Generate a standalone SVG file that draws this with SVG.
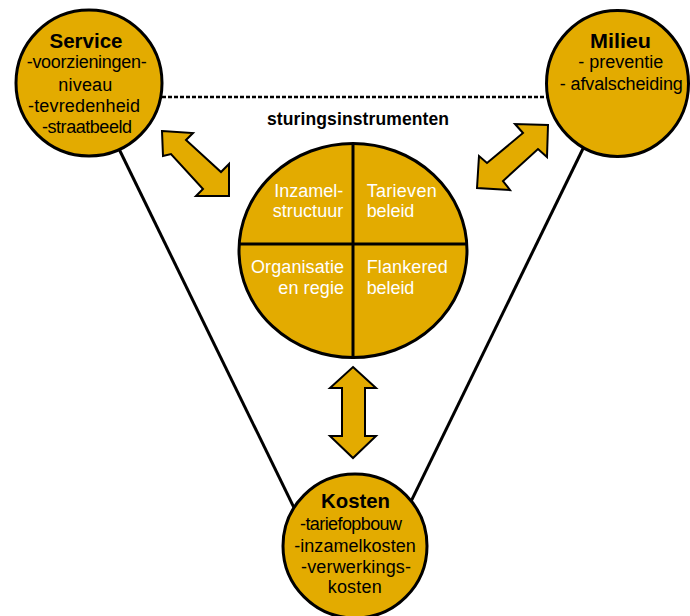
<svg xmlns="http://www.w3.org/2000/svg" width="690" height="616" viewBox="0 0 690 616">
<style>
.c{fill:#E3AB00;stroke:#000;stroke-width:3}
.ar{fill:#E3AB00;stroke:#000;stroke-width:2;stroke-linejoin:miter}
.ln{stroke:#000;stroke-width:3;fill:none}
.t{font-family:"Liberation Sans",Arial,sans-serif;font-size:18px;fill:#000;text-anchor:middle}
.h{font-family:"Liberation Sans",Arial,sans-serif;font-size:20.5px;font-weight:bold;fill:#000;text-anchor:middle}
.w{font-family:"Liberation Sans",Arial,sans-serif;font-size:18px;fill:#fff}
</style>
<rect width="690" height="616" fill="#fff"/>
<g id="connectors">
<line class="ln" x1="100" y1="110" x2="300" y2="520"/>
<line class="ln" x1="595" y1="124" x2="400" y2="524"/>
<line x1="150" y1="97" x2="555" y2="97" stroke="#000" stroke-width="2.5" stroke-dasharray="4,2"/>
<polygon class="ar" points="162,131 193,133 186,140 221,172 229,164 229,196 196,196 203,189 171,154 163,156"/>
<polygon class="ar" points="548,125 547,157 538,149 503,181 510,190 477,188 479,156 487,163 523,133 515,124"/>
<polygon class="ar" points="353,367 376,388 365,388 365,436 376,436 353,458 330,436 342,436 342,388 330,388"/>
</g>
<g id="service">
<circle class="c" cx="89" cy="83" r="73"/>
<text class="h" x="86" y="48" textLength="73" lengthAdjust="spacingAndGlyphs">Service</text>
<text class="t" x="86.7" y="68" textLength="120">-voorzieningen-</text>
<text class="t" x="85.3" y="91" textLength="54">niveau</text>
<text class="t" x="84" y="112" textLength="112">-tevredenheid</text>
<text class="t" x="87" y="133" textLength="90">-straatbeeld</text>
</g>
<g id="milieu">
<ellipse class="c" cx="617.5" cy="83.5" rx="71" ry="73"/>
<text class="h" x="620.5" y="48" textLength="61" lengthAdjust="spacingAndGlyphs">Milieu</text>
<text class="t" x="620.8" y="68" textLength="85">- preventie</text>
<text class="t" x="621.3" y="90" textLength="123">- afvalscheiding</text>
</g>
<g id="kosten">
<circle class="c" cx="355" cy="546" r="72"/>
<text class="h" x="355.5" y="508" textLength="69" lengthAdjust="spacingAndGlyphs">Kosten</text>
<text class="t" x="351" y="529.5" textLength="102">-tariefopbouw</text>
<text class="t" x="355" y="552" textLength="121.5">-inzamelkosten</text>
<text class="t" x="356" y="573" textLength="110">-verwerkings-</text>
<text class="t" x="354.7" y="593" textLength="54">kosten</text>
</g>
<g id="sturingsinstrumenten">
<text x="358" y="125" font-family="Liberation Sans, Arial, sans-serif" font-size="17.5" font-weight="bold" text-anchor="middle" textLength="182">sturingsinstrumenten</text>
<ellipse class="c" cx="353" cy="250.5" rx="114" ry="107"/>
<line class="ln" x1="353" y1="143" x2="353" y2="358"/>
<line class="ln" x1="239" y1="244" x2="467" y2="244"/>
<text class="w" x="274.3" y="197" textLength="69">Inzamel-</text>
<text class="w" x="272.7" y="217" textLength="70.6">structuur</text>
<text class="w" x="251" y="273" textLength="93">Organisatie</text>
<text class="w" x="278.3" y="294" textLength="65.7">en regie</text>
<text class="w" x="366.7" y="197" textLength="70">Tarieven</text>
<text class="w" x="366.7" y="217" textLength="47.6">beleid</text>
<text class="w" x="366.7" y="273" textLength="81">Flankered</text>
<text class="w" x="366.7" y="294" textLength="47.6">beleid</text>
</g>
</svg>
